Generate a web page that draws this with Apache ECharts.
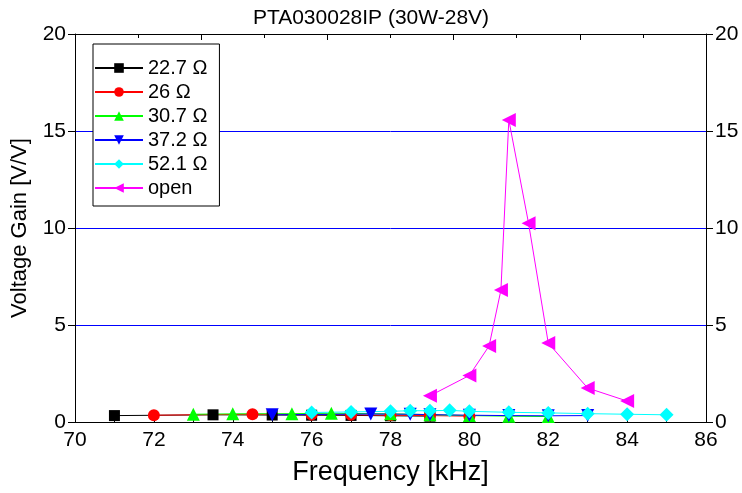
<!DOCTYPE html>
<html><head><meta charset="utf-8">
<script src="https://cdn.jsdelivr.net/npm/echarts@6/dist/echarts.min.js"></script>
<style>html,body{margin:0;padding:0;background:#fff}#c{width:742px;height:493px}</style>
</head><body><div id="c"></div>
<script>
var titleText = 'PTA030028IP (30W-28V)';
var seriesNames = ['22.7 \u03a9', '26 \u03a9', '30.7 \u03a9', '37.2 \u03a9', '52.1 \u03a9', 'open'];
var freq227 = [71, 73.5, 75, 76, 77, 78, 79];
var gain227 = [0.33, 0.37, 0.36, 0.35, 0.34, 0.32, 0.3];
var freq26 = [72, 74.5, 76, 77, 78, 79, 80];
var gain26 = [0.35, 0.4, 0.38, 0.37, 0.35, 0.33, 0.3];
var freq307 = [73, 74, 75.5, 76.5, 78, 79, 80, 81, 82];
var gain307 = [0.4, 0.42, 0.43, 0.45, 0.42, 0.38, 0.33, 0.3, 0.28];
var freq372 = [75, 77.5, 78.5, 79, 80, 81, 82, 83];
var gain372 = [0.37, 0.41, 0.4, 0.38, 0.35, 0.33, 0.32, 0.33];
var freq521 = [76, 77, 78, 78.5, 79, 79.5, 80, 81, 82, 83, 84, 85];
var gain521 = [0.49, 0.52, 0.55, 0.58, 0.58, 0.6, 0.55, 0.5, 0.47, 0.43, 0.4, 0.37];
var freqOpen = [79, 80, 80.5, 80.8, 81, 81.5, 82, 83, 84];
var gainOpen = [1.35, 2.4, 3.92, 6.8, 15.57, 10.25, 4.07, 1.75, 1.08];

function pairs(xs, ys){ return xs.map(function(x,i){ return [x, ys[i]]; }); }

var F = 'Liberation Sans, Arial, sans-serif';
var colors = ['#000000', '#ff0000', '#00ff00', '#0000ff', '#00ffff', '#ff00ff'];
var symbols = ['rect', 'circle', 'triangle', 'triangle', 'diamond', 'triangle'];
var rotates = [0, 0, 0, 180, 0, 90];
var sizes = [11, 12, 13, 13, 14, 14];
var xs = [freq227, freq26, freq307, freq372, freq521, freqOpen];
var ys = [gain227, gain26, gain307, gain372, gain521, gainOpen];

var series = seriesNames.map(function(n, i){
  return {
    name: n, type: 'line', xAxisIndex: 0, yAxisIndex: 0,
    data: pairs(xs[i], ys[i]),
    symbol: symbols[i], symbolRotate: rotates[i], symbolSize: sizes[i],
    showAllSymbol: true,
    lineStyle: {color: colors[i], width: 1},
    itemStyle: {color: colors[i]},
    animation: false
  };
});
series.push({name: '_top', type: 'line', xAxisIndex: 1, yAxisIndex: 1, data: [], silent: true});

var chart = echarts.init(document.getElementById('c'));
chart.setOption({
  animation: false,
  title: {text: titleText, left: 'center', top: 3, textStyle: {fontFamily: F, fontSize: 21, fontWeight: 'normal', color: '#000'}},
  grid: {left: 75, right: 36, top: 34, bottom: 71},
  legend: {
    data: seriesNames, orient: 'vertical', left: 93, top: 44,
    borderColor: '#000', borderWidth: 1, padding: [14, 12, 8, 1],
    itemWidth: 48, itemHeight: 12, itemGap: 4,
    textStyle: {fontFamily: F, fontSize: 20, color: '#000', lineHeight: 20},
    backgroundColor: '#fff'
  },
  xAxis: [{
    type: 'value', min: 70, max: 86, interval: 2, position: 'bottom',
    name: 'Frequency [kHz]', nameLocation: 'middle', nameGap: 37,
    nameTextStyle: {fontFamily: F, fontSize: 27, color: '#000'},
    axisLine: {show: true, lineStyle: {color: '#000', width: 1}},
    axisTick: {show: true, inside: true, length: 6, lineStyle: {color: '#000', width: 1}},
    minorTick: {show: true, splitNumber: 2, length: 4, lineStyle: {color: '#000', width: 1}},
    axisLabel: {fontFamily: F, fontSize: 21, color: '#000', margin: 8},
    splitLine: {show: false}
  }, {
    type: 'value', min: 0, max: 10, interval: 2, position: 'top',
    axisLine: {show: true, onZero: false, lineStyle: {color: '#000', width: 1}},
    axisTick: {show: true, inside: true, length: 6, lineStyle: {color: '#000', width: 1}},
    minorTick: {show: true, splitNumber: 2, length: 4, lineStyle: {color: '#000', width: 1}},
    axisLabel: {show: false}, splitLine: {show: false}
  }],
  yAxis: [{
    type: 'value', min: 0, max: 20, interval: 5, position: 'left',
    name: 'Voltage Gain [V/V]', nameLocation: 'middle', nameGap: 44,
    nameTextStyle: {fontFamily: F, fontSize: 22, color: '#000'},
    axisLine: {show: true, lineStyle: {color: '#000', width: 1}},
    axisTick: {show: true, inside: false, length: 7, lineStyle: {color: '#000'}},
    axisLabel: {fontFamily: F, fontSize: 21, color: '#000', margin: 9},
    splitLine: {show: true, showMinLine: false, showMaxLine: false, lineStyle: {color: '#0000ff', width: 1}}
  }, {
    type: 'value', min: 0, max: 20, interval: 5, position: 'right',
    axisLine: {show: true, lineStyle: {color: '#000', width: 1}},
    axisTick: {show: true, inside: false, length: 7, lineStyle: {color: '#000'}},
    axisLabel: {fontFamily: F, fontSize: 21, color: '#000', margin: 9},
    splitLine: {show: false}
  }],
  series: series
});
</script></body></html>
